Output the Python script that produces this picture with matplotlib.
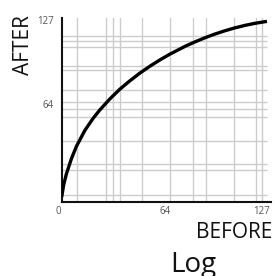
import matplotlib
matplotlib.use("Agg")
import matplotlib.pyplot as plt
from matplotlib.transforms import ScaledTranslation

plt.rcParams["font.family"] = ["Open Sans", "DejaVu Sans"]

# curve (BEFORE -> AFTER)
before = [0, 1.2, 2.9, 6.0, 9.1, 14.3, 19.4, 23.5, 29.7, 36.0, 42.1, 48.3, 54.5,
          60.7, 66.9, 76.2, 82.4, 88.6, 94.8, 101.0, 107.2, 113.4, 119.6, 125.8, 127]
after = [0.7, 9.5, 17.5, 28.5, 37.5, 49.0, 57.8, 63.8, 71.8, 79.0, 85.0, 90.6, 95.6,
         100.2, 104.4, 110.0, 113.3, 116.3, 119.0, 121.4, 123.5, 125.3, 126.8, 128.0, 128.2]

# grid lines
grid_x = [9.5, 27.7, 31.8, 35.9, 49.4, 67.3, 81.0, 89.0, 106.8, 120.0, 123.7]
grid_y = [117.8, 113.9, 109.4, 96.0, 92.9, 78.4, 69.4, 64.4, 58.8, 41.6, 24.7, 20.3, 2.2]

tick_vals = [0, 64, 127]
tick_labels = ["0", "64", "127"]

fig = plt.figure(figsize=(2.74, 2.76), dpi=100)
ax = fig.add_axes([0.2252, 0.2699, 0.9891 - 0.2252, 0.933 - 0.2699])
ax.set_xlim(0, 129.5)
ax.set_ylim(-2.54, 130.3)

for gx in grid_x:
    ax.axvline(gx, color="#cccccc", lw=1.0, zorder=1)
ax.hlines(grid_y, 0, 127, color="#cccccc", lw=1.0, zorder=1)

ax.plot(before, after, color="black", lw=2.4, solid_joinstyle="round",
        solid_capstyle="butt", zorder=3)

for s in ["top", "right"]:
    ax.spines[s].set_visible(False)
for s in ["left", "bottom"]:
    ax.spines[s].set_linewidth(1.5)
    ax.spines[s].set_color("#111111")

ax.set_xticks(tick_vals)
ax.set_xticklabels(tick_labels)
ax.set_yticks(tick_vals[1:])
ax.set_yticklabels(tick_labels[1:])
ax.tick_params(length=0, labelsize=7, labelcolor="#555555")
ax.tick_params(axis="y", pad=5.8)
ax.tick_params(axis="x", pad=3.5)

# labels sit a little off their values in the original
for lab, dx in zip(ax.get_xticklabels(), [-3.7, 0, -5.3]):
    lab.set_transform(lab.get_transform() + ScaledTranslation(dx / 100, 0, fig.dpi_scale_trans))
for lab, dy in zip(ax.get_yticklabels(), [5.5, 3.0]):
    lab.set_transform(lab.get_transform() + ScaledTranslation(0, dy / 100, fig.dpi_scale_trans))

fig.text(23.5 / 274, 1 - 45.5 / 276, "AFTER", rotation=90, ha="center", va="center",
         fontsize=15, color="#111111")
fig.text(272 / 274, 1 - 238.3 / 276, "BEFORE", ha="right", va="baseline",
         fontsize=15, color="#111111")
fig.text(193 / 274, 1 - 271.7 / 276, "Log", ha="center", va="baseline",
         fontsize=20, color="#111111")

fig.savefig("out.png", dpi=100)
